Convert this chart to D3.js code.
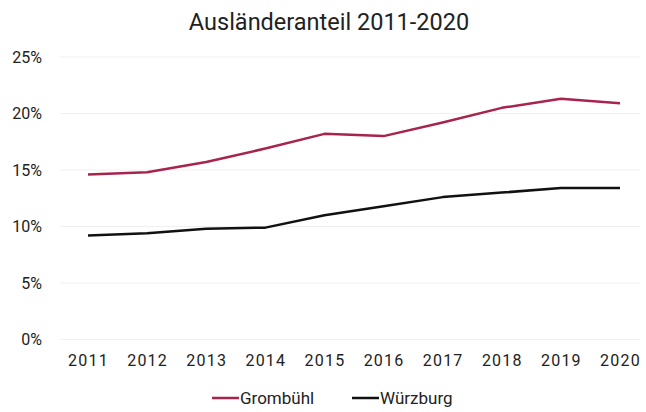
<!DOCTYPE html>
<html><head><meta charset="utf-8">
<script src="https://cdn.jsdelivr.net/npm/d3@7"></script>
<style>
body{margin:0;background:#fff;}
text{font-family:Roboto,"Noto Sans",sans-serif;fill:#222;}
</style></head>
<body><svg id="c" width="646" height="412"></svg>
<script>
const years = [2011,2012,2013,2014,2015,2016,2017,2018,2019,2020];
const grombuehl = [14.6,14.8,15.7,16.9,18.2,18.0,19.2,20.5,21.3,20.9];
const wuerzburg = [9.2,9.4,9.8,9.9,11.0,11.8,12.6,13.0,13.4,13.4];
const yTicks = [0,5,10,15,20,25];
const seriesNames = ["Grombühl","Würzburg"];
const colors = ["#a8234d","#111111"];

const svg = d3.select("#c");
const x = d3.scalePoint().domain(years).range([88,620]);
const y = d3.scaleLinear().domain([0,25]).range([339.5,57]);

// grid
svg.append("g").selectAll("line").data(yTicks).join("line")
  .attr("x1",60).attr("x2",640)
  .attr("y1",d=>y(d)).attr("y2",d=>y(d))
  .attr("stroke","#f0f0f0").attr("stroke-width",1);

// y axis
const ya = svg.append("g").attr("transform","translate(42,0)")
  .call(d3.axisLeft(y).tickValues(yTicks).tickFormat(d=>d+"%").tickSize(0).tickPadding(0));
ya.select(".domain").remove();
ya.selectAll("text").style("font-size","16px").attr("fill","#222");

// x axis
const xa = svg.append("g").attr("transform","translate(0,355)")
  .call(d3.axisBottom(x).tickSize(0).tickPadding(0));
xa.select(".domain").remove();
xa.selectAll("text").style("font-size","16px").style("letter-spacing","1.2px").attr("fill","#222");

// lines
const line = d3.line().x((d,i)=>x(years[i])).y(d=>y(d));
[grombuehl,wuerzburg].forEach((s,k)=>{
  svg.append("path").datum(s).attr("d",line).attr("fill","none")
    .attr("stroke",colors[k]).attr("stroke-width",2.5).attr("stroke-linejoin","round");
});

// title
svg.append("text").attr("x",329).attr("y",30).attr("text-anchor","middle")
  .style("font-size","23.5px").text("Ausländeranteil 2011-2020");

// legend
const legX = [212,352];
seriesNames.forEach((n,k)=>{
  svg.append("line").attr("x1",legX[k]).attr("x2",legX[k]+27).attr("y1",398).attr("y2",398)
    .attr("stroke",colors[k]).attr("stroke-width",2.5);
  svg.append("text").attr("x",legX[k]+28).attr("y",404).style("font-size","17px").text(n);
});
</script></body></html>
